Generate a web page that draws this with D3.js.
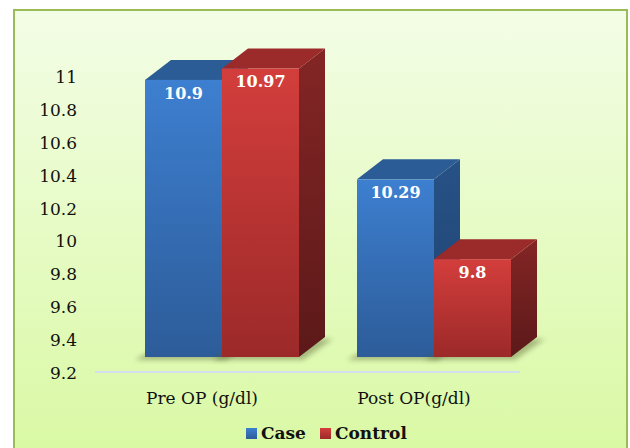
<!DOCTYPE html>
<html>
<head>
<meta charset="utf-8">
<script src="https://cdn.jsdelivr.net/npm/d3@7"></script>
<style>
  body { margin: 0; background: #fff; }
</style>
</head>
<body>
<div id="chart"></div>
<script>
// data
const categories = ['Pre OP (g/dl)', 'Post OP(g/dl)'];
const series = ['Case', 'Control'];
const caseValues = [10.9, 10.29];
const controlValues = [10.97, 9.8];
const yTicks = [9.2, 9.4, 9.6, 9.8, 10, 10.2, 10.4, 10.6, 10.8, 11];

const width = 630;
const height = 448;
const depth = {dx: 26, dy: -20}; // 3d offset of the back face
const barWidth = 77;
const font = "'DejaVu Serif', serif";

const svg = d3.select('#chart')
  .append('svg')
    .attr('width', width)
    .attr('height', height)
    .attr('font-family', font)
    .style('display', 'block');

const defs = svg.append('defs');

const bg = defs.append('linearGradient')
  .attr('id', 'bg').attr('x1', 0).attr('y1', 0).attr('x2', 0).attr('y2', 1);
bg.append('stop').attr('offset', 0).attr('stop-color', '#f3fde6');
bg.append('stop').attr('offset', 1).attr('stop-color', '#d9f9a3');

// front and side gradients for each series
const palette = {
  Case:    {front: ['#3d7fd0', '#2d5c99'], side: ['#275287', '#1f426f'], top: '#2c5c96'},
  Control: {front: ['#d33e3c', '#9c2929'], side: ['#842525', '#5c1919'], top: '#9b2a2a'}
};
series.forEach(s => {
  ['front', 'side'].forEach(part => {
    const g = defs.append('linearGradient')
      .attr('id', `${s}-${part}`).attr('x1', 0).attr('y1', 0).attr('x2', 0).attr('y2', 1);
    g.append('stop').attr('offset', 0).attr('stop-color', palette[s][part][0]);
    g.append('stop').attr('offset', 1).attr('stop-color', palette[s][part][1]);
  });
});

defs.append('filter').attr('id', 'blur')
  .attr('x', '-20%').attr('y', '-50%').attr('width', '140%').attr('height', '200%')
  .append('feGaussianBlur').attr('stdDeviation', 2.5);

// chart area
svg.append('rect')
  .attr('x', 14).attr('y', 10)
  .attr('width', 613).attr('height', 450)
  .attr('fill', 'url(#bg)')
  .attr('stroke', '#9bbb59')
  .attr('stroke-width', 2);

// y axis labels (back wall scale)
const yScale = d3.scaleLinear().domain([9.2, 11]).range([373, 77]);
// bars front face scale
const barY = d3.scaleLinear().domain([9.2, 11]).range([357, 63.6]);

svg.append('g')
  .selectAll('text')
  .data(yTicks)
  .join('text')
    .attr('x', 77)
    .attr('y', d => yScale(d))
    .attr('dy', '0.35em')
    .attr('text-anchor', 'end')
    .attr('font-size', 17)
    .attr('fill', '#111')
    .text(d => d);

// floor line
svg.append('line')
  .attr('x1', 95).attr('x2', 520)
  .attr('y1', yScale(9.2) - 1).attr('y2', yScale(9.2) - 1)
  .attr('stroke', '#d3dfee')
  .attr('stroke-width', 2);

const xScale = d3.scalePoint().domain(categories).range([222, 434]);
const xSub = d3.scaleBand().domain(series).range([-barWidth, barWidth]);

const bars = [];
categories.forEach((c, i) => {
  bars.push({cat: c, s: 'Case', v: caseValues[i]});
  bars.push({cat: c, s: 'Control', v: controlValues[i]});
});

const barsG = svg.append('g');
bars.forEach(d => {
  const x0 = xScale(d.cat) + xSub(d.s);
  const x1 = x0 + xSub.bandwidth();
  const yTop = barY(d.v);
  const yBot = barY(9.2);
  const g = barsG.append('g');

  // soft shadow on the floor
  g.append('polygon')
    .attr('points', [
      [x0 - 10, yBot + 3], [x1 + 4, yBot + 3],
      [x1 + depth.dx + 8, yBot + depth.dy + 2], [x0 + depth.dx, yBot + depth.dy + 2]
    ].join(' '))
    .attr('fill', '#4f5a2a')
    .attr('opacity', 0.4)
    .attr('filter', 'url(#blur)');

  // side face
  g.append('polygon')
    .attr('points', [
      [x1, yTop], [x1 + depth.dx, yTop + depth.dy],
      [x1 + depth.dx, yBot + depth.dy], [x1, yBot]
    ].join(' '))
    .attr('fill', `url(#${d.s}-side)`);

  // top face
  g.append('polygon')
    .attr('points', [
      [x0, yTop], [x0 + depth.dx, yTop + depth.dy],
      [x1 + depth.dx, yTop + depth.dy], [x1, yTop]
    ].join(' '))
    .attr('fill', palette[d.s].top);

  // front face
  g.append('rect')
    .attr('x', x0).attr('y', yTop)
    .attr('width', x1 - x0).attr('height', yBot - yTop)
    .attr('fill', `url(#${d.s}-front)`);

  g.append('text')
    .attr('x', (x0 + x1) / 2)
    .attr('y', yTop + 19)
    .attr('text-anchor', 'middle')
    .attr('font-size', 16)
    .attr('font-weight', 700)
    .attr('fill', '#fff')
    .text(d.v);
});

// category labels
svg.append('g')
  .selectAll('text')
  .data(categories)
  .join('text')
    .attr('x', d => xScale(d) - 20)
    .attr('y', 404)
    .attr('text-anchor', 'middle')
    .attr('font-size', 17)
    .attr('fill', '#111')
    .text(d => d);

// legend
const legendX = [246, 320];
const legend = svg.append('g')
  .selectAll('g')
  .data(series)
  .join('g')
    .attr('transform', (d, i) => `translate(${legendX[i]}, 428)`);
legend.append('rect')
  .attr('width', 11).attr('height', 11)
  .attr('fill', d => `url(#${d}-front)`);
legend.append('text')
  .attr('x', 15)
  .attr('y', 11)
  .attr('font-size', 17)
  .attr('font-weight', 700)
  .attr('fill', '#111')
  .text(d => d);
</script>
</body>
</html>
